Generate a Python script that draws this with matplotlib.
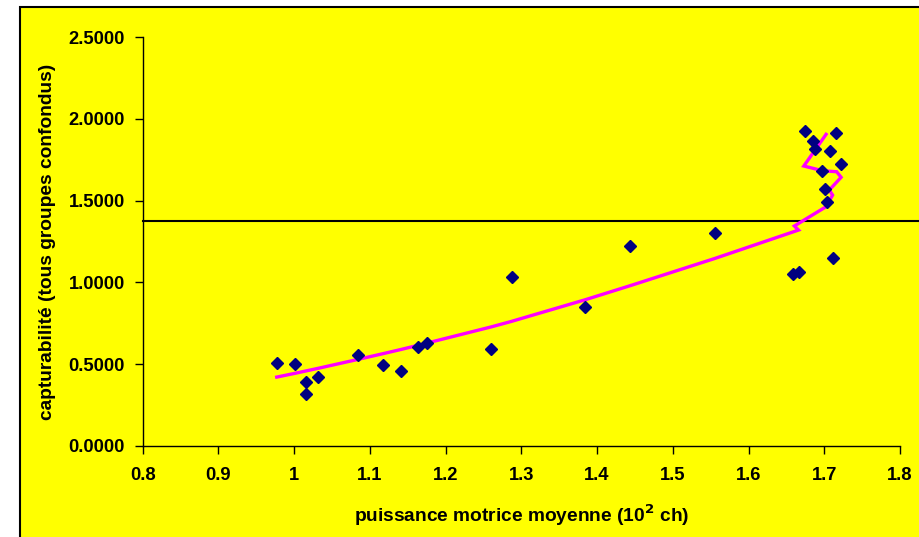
import numpy as np
import matplotlib.pyplot as plt
from matplotlib.patches import Rectangle

plt.rcParams['font.family'] = ['Liberation Sans', 'DejaVu Sans']
plt.rcParams['font.weight'] = 'bold'

# puissance motrice moyenne (10^2 ch) et capturabilité observée
puissance = [0.977, 1.001, 1.015, 1.016, 1.031, 1.084, 1.117, 1.141, 1.163, 1.175,
             1.260, 1.287, 1.384, 1.444, 1.556,
             1.674, 1.715, 1.685, 1.688, 1.707, 1.722, 1.697, 1.7005, 1.703,
             1.711, 1.667, 1.659]
capturabilite = [0.504, 0.498, 0.390, 0.318, 0.420, 0.558, 0.493, 0.458, 0.604, 0.628,
                 0.592, 1.031, 0.849, 1.224, 1.300,
                 1.926, 1.912, 1.867, 1.814, 1.804, 1.722, 1.679, 1.569, 1.490,
                 1.149, 1.065, 1.053]

# valeurs ajustées, dans l'ordre croissant
ajust_x = [0.977, 1.001, 1.015, 1.016, 1.031, 1.084, 1.117, 1.141, 1.163, 1.175,
           1.260, 1.287, 1.384, 1.444, 1.556, 1.666, 1.6605, 1.7024, 1.711, 1.7067,
           1.7222, 1.7164, 1.698, 1.673, 1.7024]
ajust_y = [0.420, 0.443, 0.457, 0.458, 0.473, 0.528, 0.563, 0.589, 0.614, 0.628,
           0.727, 0.761, 0.893, 0.980, 1.147, 1.320, 1.345, 1.463, 1.534, 1.565,
           1.643, 1.677, 1.683, 1.712, 1.906]

# capturabilité moyenne
niveau_moyen = 1.375

x_ticks = [0.8, 0.9, 1.0, 1.1, 1.2, 1.3, 1.4, 1.5, 1.6, 1.7, 1.8]
x_labels = ['0.8', '0.9', '1', '1.1', '1.2', '1.3', '1.4', '1.5', '1.6', '1.7', '1.8']
y_ticks = [0.0, 0.5, 1.0, 1.5, 2.0, 2.5]

fig = plt.figure(figsize=(9.2, 5.37), dpi=100)
fig.patch.set_facecolor('white')
# cadre jaune du graphique
fig.patches.append(Rectangle((20 / 920, -0.1), 2, 1 - 7 / 537 + 0.1,
                             transform=fig.transFigure, facecolor='#FFFF00',
                             edgecolor='black', linewidth=1.5, zorder=-10))

ax = fig.add_axes([142.7 / 920, 1 - 445.7 / 537, (900 - 142.7) / 920, (445.7 - 37.3) / 537])
ax.set_zorder(1)
ax.set_facecolor('none')

ax.plot([0.8, 1.85], [niveau_moyen, niveau_moyen], color='black', lw=1.5, clip_on=False, zorder=2)
ax.plot(ajust_x, ajust_y, color='#FF00FF', lw=2.4, solid_joinstyle='miter', zorder=3)
ax.plot(puissance, capturabilite, linestyle='none', marker='D', markersize=6.3,
        color='#000080', zorder=4)

ax.set_xlim(0.8, 1.8)
ax.set_ylim(0, 2.5)
ax.set_xticks(x_ticks)
ax.set_xticklabels(x_labels)
ax.set_yticks(y_ticks)
ax.set_yticklabels([f'{v:.4f}' for v in y_ticks])

for s in ['top', 'right']:
    ax.spines[s].set_visible(False)
for s in ['left', 'bottom']:
    ax.spines[s].set_linewidth(1.0)

ax.tick_params(axis='x', direction='out', length=6, width=1, pad=9, labelsize=13.2)
ax.tick_params(axis='y', direction='out', length=6, width=1, pad=7, labelsize=13.2)

ax.set_xlabel('puissance motrice moyenne (10$^{\\mathbf{2}}$ ch)', fontsize=13.8,
              fontweight='bold', labelpad=14)
ax.set_ylabel('capturabilité (tous groupes confondus)', fontsize=13.8,
              fontweight='bold', labelpad=9)

fig.savefig('out.png', dpi=100, facecolor=fig.get_facecolor())
